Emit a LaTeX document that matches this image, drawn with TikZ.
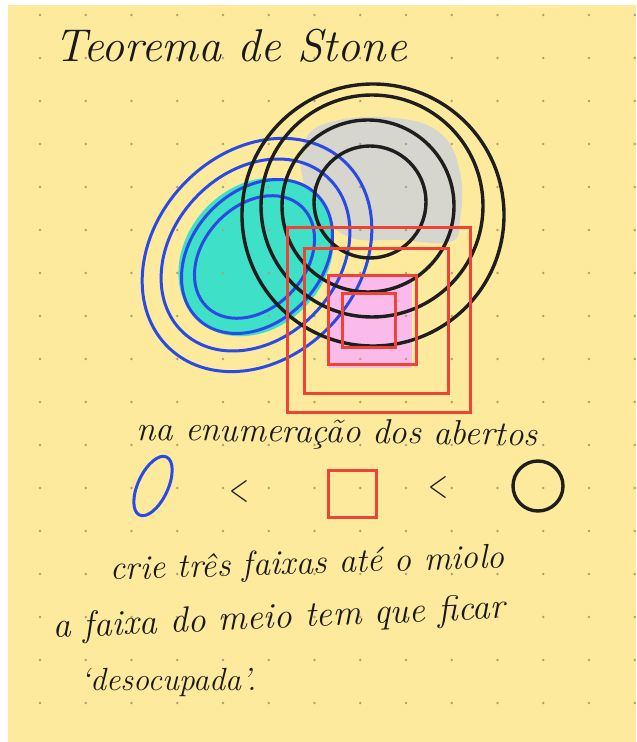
\documentclass[tikz,border=0pt]{standalone}
\usepackage{fontspec}
\definecolor{paper}{RGB}{254,234,156}
\definecolor{dotc}{RGB}{175,160,115}
\definecolor{myblue}{RGB}{42,74,228}
\definecolor{myred}{RGB}{238,68,56}
\definecolor{myblack}{RGB}{30,30,30}
\definecolor{myink}{RGB}{25,25,25}
\definecolor{teal1}{RGB}{62,224,200}
\definecolor{gray1}{RGB}{214,213,206}
\definecolor{pink1}{RGB}{250,186,234}
\begin{document}
\begin{tikzpicture}[x=0.5pt,y=-0.5pt,
  bluel/.style={draw=myblue,line width=1.5pt},
  blackl/.style={draw=myblack,line width=1.7pt},
  redl/.style={draw=myred,line width=1.5pt},
  hand/.style={text=myink,inner sep=0pt,anchor=base west}]
\useasboundingbox (0,0) rectangle (636,742);
\fill[white] (0,0) rectangle (636,742);
\fill[paper] (8,5) rectangle (636,742);
% fills
\fill[gray1] plot[smooth cycle,tension=0.7] coordinates {(305,140) (335,121) (395,118) (440,133) (460,172) (460,220) (450,242) (400,240) (352,238) (322,215) (303,180)};
\fill[teal1,rotate around={48:(256,257)}] (256,257) ellipse[x radius=86,y radius=70];
\fill[pink1] (329,277) rectangle (412,368);
% dot grid
\foreach \i in {0,...,13} \foreach \j in {0,...,16} \fill[dotc] ({40+45.75*\i},{15+43*\j}) circle[radius=1.4];
% blue ellipses
\draw[bluel,rotate around={47:(257,255)}] (257,255) ellipse[x radius=128,y radius=102];
\draw[bluel,rotate around={47:(255.5,255)}] (255.5,255) ellipse[x radius=106,y radius=83];
\draw[bluel,rotate around={47:(257,256.5)}] (257,256.5) ellipse[x radius=86,y radius=65];
\draw[bluel,rotate around={47:(254.5,257)}] (254.5,257) ellipse[x radius=69,y radius=51];
% black circles
\draw[blackl] (373,215) circle[radius=131];
\draw[blackl] (372,206) circle[radius=111];
\draw[blackl] (368,206) circle[radius=86];
\draw[blackl] (370,202) circle[radius=56];
% red squares
\draw[redl] (287,228) rectangle (470,412);
\draw[redl] (304,249) rectangle (448,393);
\draw[redl] (328,276) rectangle (416,364);
\draw[redl] (342,294) rectangle (395,347);
% legend
\draw[bluel,rotate around={65:(153,486)}] (153,486) ellipse[x radius=32,y radius=15];
\node[text=myink,inner sep=0pt,xscale=0.65,font=\fontsize{20}{20}\selectfont] (lt1) at (239,492) {<};
\node[text=myink,inner sep=0pt,xscale=0.65,font=\fontsize{20}{20}\selectfont] (lt2) at (438,488) {<};
\draw[redl] (328,470) rectangle (376,517);
\draw[blackl] (538,486) circle[radius=25];
% texts
\node[hand,font=\fontsize{23}{26}\selectfont\itshape] (title) at (54,62) {Teorema de Stone};
\node[hand,font=\fontsize{17.4}{20}\selectfont\itshape,rotate=-0.8] (t1) at (136,440) {na enumeração dos abertos};
\node[hand,font=\fontsize{17.2}{20}\selectfont\itshape,rotate=1.8] (t2) at (110,580) {crie três faixas até o miolo};
\node[hand,font=\fontsize{18}{20}\selectfont\itshape,rotate=2.5] (t3) at (53,638) {a faixa do meio tem que ficar};
\node[hand,font=\fontsize{16}{20}\selectfont\itshape] (t4) at (80,690) {‘desocupada’.};
\end{tikzpicture}
\end{document}
